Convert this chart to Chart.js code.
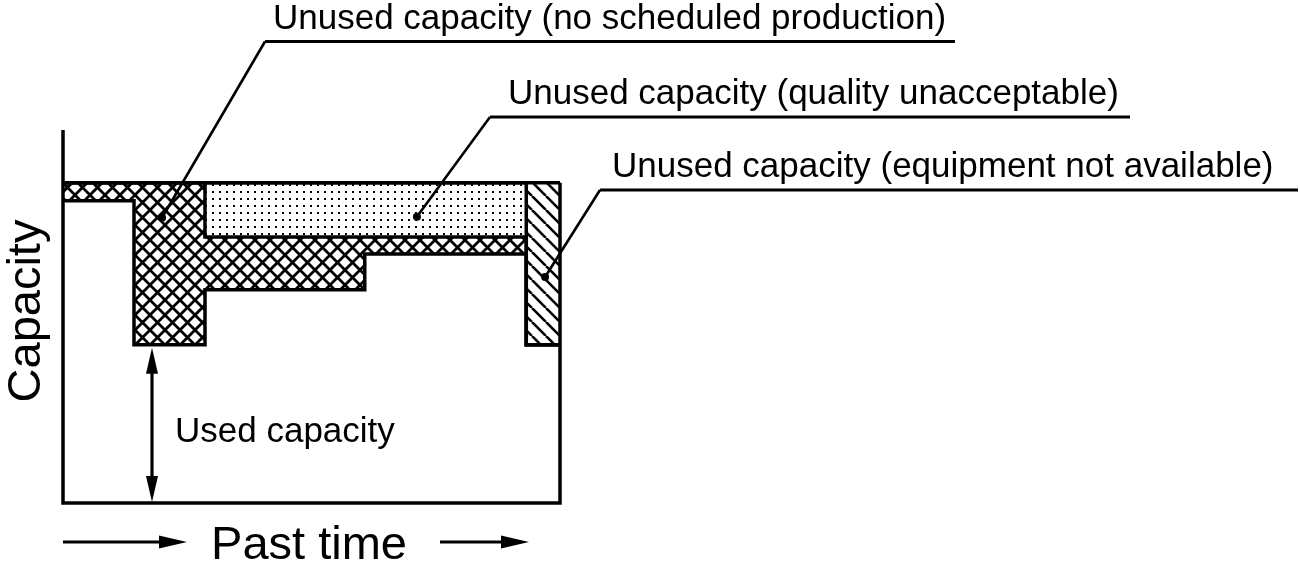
<!DOCTYPE html>
<html>
<head>
<meta charset="utf-8">
<title>Capacity</title>
<script src="https://cdn.jsdelivr.net/npm/chart.js@4/dist/chart.umd.min.js"></script>
<style>
  html, body { margin: 0; padding: 0; background: #fff; }
  canvas { display: block; background: #fff; }
</style>
</head>
<body>
<canvas id="capacity-chart" width="1300" height="563"></canvas>
<script>
// time where each step starts (last one closes the frame)
const timeSteps = [0, 2, 4, 8.5, 13.05, 14];
const usedCapacity = [9.44, 4.94, 6.66, 7.78, 4.94, 4.94];
const noSchedule = [0.56, 5.06, 1.65, 0.53, 0, 0];
const qualityLoss = [0, 0, 1.69, 1.69, 0, 0];
const equipmentDown = [0, 0, 0, 0, 5.06, 5.06];

const timeMax = 14;
const capacityMax = 11.65;

const labelNoSchedule = 'Unused capacity (no scheduled production)';
const labelQuality = 'Unused capacity (quality unacceptable)';
const labelEquipment = 'Unused capacity (equipment not available)';

function makePattern(size, draw) {
  const c = document.createElement('canvas');
  c.width = size;
  c.height = size;
  const g = c.getContext('2d');
  draw(g, size);
  return document.getElementById('capacity-chart').getContext('2d').createPattern(c, 'repeat');
}

const crossPattern = makePattern(15, function (g, s) {
  g.strokeStyle = '#000';
  g.lineWidth = 2.8;
  for (let k = -1; k <= 1; k++) {
    g.beginPath();
    g.moveTo(k * s, 0);
    g.lineTo(k * s + s, s);
    g.moveTo(k * s + s, 0);
    g.lineTo(k * s, s);
    g.stroke();
  }
});

const dotPattern = makePattern(7, function (g) {
  g.fillStyle = '#000';
  g.fillRect(2, 2, 2, 2);
});

const hatchPattern = makePattern(14, function (g, s) {
  g.strokeStyle = '#000';
  g.lineWidth = 2.6;
  for (let k = -1; k <= 1; k++) {
    g.beginPath();
    g.moveTo(k * s, 0);
    g.lineTo(k * s + s, s);
    g.stroke();
  }
});

// stack the series into boundary lines
function stackOn(base, add) {
  return base.map((v, i) => v + add[i]);
}
const topUsed = usedCapacity;
const topNoSchedule = stackOn(topUsed, noSchedule);
const topQuality = stackOn(topNoSchedule, qualityLoss);
const topEquipment = stackOn(topQuality, equipmentDown);

function toPoints(values) {
  return values.map((v, i) => ({ x: timeSteps[i], y: v }));
}

function stepLine(label, values, fill, pattern) {
  return {
    label: label,
    data: toPoints(values),
    stepped: true,
    borderColor: '#000',
    borderWidth: 3.5,
    borderJoinStyle: 'miter',
    pointRadius: 0,
    clip: false,
    fill: fill,
    backgroundColor: pattern || 'transparent',
  };
}

const annotations = {
  id: 'annotations',
  afterDatasetsDraw(chart) {
    const ctx = chart.ctx;
    const xs = chart.scales.x;
    const ys = chart.scales.y;
    ctx.save();
    ctx.fillStyle = '#000';
    ctx.strokeStyle = '#000';
    ctx.textBaseline = 'alphabetic';

    function callout(text, tx, ty, lineStart, lineEnd, lineY, dotX, dotY) {
      ctx.font = '35px "Liberation Sans", Arial, sans-serif';
      ctx.textAlign = 'left';
      ctx.fillText(text, tx, ty);
      ctx.lineWidth = 3.2;
      ctx.beginPath();
      ctx.moveTo(lineStart, lineY);
      ctx.lineTo(lineEnd, lineY);
      ctx.stroke();
      const px = xs.getPixelForValue(dotX);
      const py = ys.getPixelForValue(dotY);
      ctx.lineWidth = 2.6;
      ctx.beginPath();
      ctx.moveTo(lineStart, lineY);
      ctx.lineTo(px, py);
      ctx.stroke();
      ctx.beginPath();
      ctx.arc(px, py, 4, 0, Math.PI * 2);
      ctx.fill();
    }

    function arrowHead(x, y, dx, dy, len, half) {
      const nx = -dy, ny = dx;
      ctx.beginPath();
      ctx.moveTo(x, y);
      ctx.lineTo(x - dx * len + nx * half, y - dy * len + ny * half);
      ctx.lineTo(x - dx * len - nx * half, y - dy * len - ny * half);
      ctx.closePath();
      ctx.fill();
    }

    callout(labelNoSchedule, 273, 29, 265, 955, 41.5, 2.79, 8.91);
    callout(labelQuality, 508, 104, 490, 1130, 117, 9.97, 8.94);
    callout(labelEquipment, 612, 177, 600, 1298, 190, 13.58, 7.06);

    // used capacity arrow
    const ax = 152;
    const aTop = ys.getPixelForValue(usedCapacity[1]) + 3;
    const aBot = ys.getPixelForValue(0) - 1;
    ctx.lineWidth = 3.2;
    ctx.beginPath();
    ctx.moveTo(ax, aTop + 14);
    ctx.lineTo(ax, aBot - 14);
    ctx.stroke();
    arrowHead(ax, aTop, 0, -1, 26, 6);
    arrowHead(ax, aBot, 0, 1, 26, 6);

    ctx.font = '35px "Liberation Sans", Arial, sans-serif';
    ctx.fillText('Used capacity', 175, 442);

    // axis titles
    ctx.font = '47px "Liberation Sans", Arial, sans-serif';
    ctx.textAlign = 'center';
    ctx.fillText('Past time', 309, 559);
    ctx.save();
    ctx.translate(40, 311);
    ctx.rotate(-Math.PI / 2);
    ctx.fillText('Capacity', 0, 0);
    ctx.restore();

    ctx.lineWidth = 3.2;
    ctx.beginPath();
    ctx.moveTo(63, 542);
    ctx.lineTo(165, 542);
    ctx.moveTo(440, 542);
    ctx.lineTo(510, 542);
    ctx.stroke();
    arrowHead(187, 542, 1, 0, 28, 6.5);
    arrowHead(529, 542, 1, 0, 28, 6.5);

    ctx.restore();
  },
};

new Chart(document.getElementById('capacity-chart'), {
  type: 'line',
  data: {
    datasets: [
      stepLine('Used capacity', topUsed, false),
      stepLine(labelNoSchedule, topNoSchedule, '-1', crossPattern),
      stepLine(labelQuality, topQuality, '-1', dotPattern),
      stepLine(labelEquipment, topEquipment, '-1', hatchPattern),
      {
        label: 'frame',
        data: [
          { x: 0, y: capacityMax },
          { x: 0, y: 0 },
          { x: timeMax, y: 0 },
          { x: timeMax, y: topEquipment[topEquipment.length - 1] },
        ],
        borderColor: '#000',
        borderWidth: 3.5,
        borderJoinStyle: 'miter',
        pointRadius: 0,
        clip: false,
        fill: false,
      },
    ],
  },
  options: {
    responsive: false,
    animation: false,
    devicePixelRatio: 1,
    layout: {
      padding: { left: 63, right: 740, top: 130, bottom: 60 },
    },
    scales: {
      x: { type: 'linear', min: 0, max: timeMax, display: false },
      y: { min: 0, max: capacityMax, display: false },
    },
    plugins: {
      legend: { display: false },
      tooltip: { enabled: false },
    },
  },
  plugins: [annotations],
});
</script>
</body>
</html>
